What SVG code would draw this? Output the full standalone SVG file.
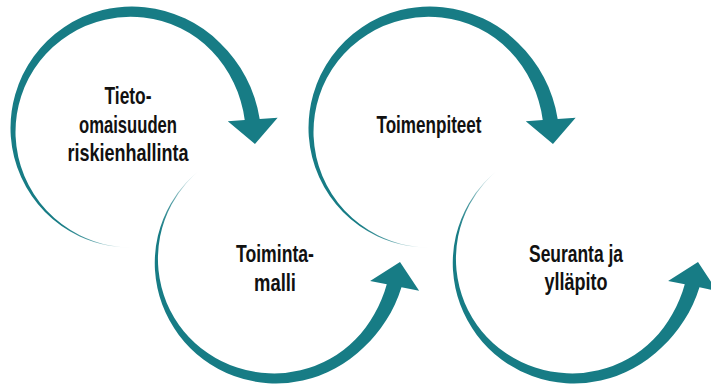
<svg xmlns="http://www.w3.org/2000/svg" xmlns:xlink="http://www.w3.org/1999/xlink" width="711" height="384" viewBox="0 0 711 384">
  <style>
    .label { font-family: "Liberation Sans Narrow", "Liberation Sans", Arial, sans-serif; font-weight: bold; font-size: 24px; fill: #111111; text-anchor: middle; }
  </style>
  <defs>
    <!-- tail fade: transparent at the thin end, solid teal further along -->
    <radialGradient id="fadeLong" gradientUnits="userSpaceOnUse" cx="0" cy="119.5" r="75">
      <stop offset="0" stop-color="#177c85" stop-opacity="0"/>
      <stop offset="0.27" stop-color="#177c85" stop-opacity="0.3"/>
      <stop offset="0.6" stop-color="#177c85" stop-opacity="0.78"/>
      <stop offset="1" stop-color="#177c85" stop-opacity="1"/>
    </radialGradient>
    <radialGradient id="fadeShort" gradientUnits="userSpaceOnUse" cx="-87.4" cy="81.5" r="75">
      <stop offset="0" stop-color="#177c85" stop-opacity="0"/>
      <stop offset="0.27" stop-color="#177c85" stop-opacity="0.3"/>
      <stop offset="0.6" stop-color="#177c85" stop-opacity="0.78"/>
      <stop offset="1" stop-color="#177c85" stop-opacity="1"/>
    </radialGradient>
    <!-- tapering circular arrow, centre at origin, sweep ~266deg -->
    <path id="arrowLong" fill="url(#fadeLong)" d="M 112.72 -7.88 L 95.77 -6.70 L 122.97 15.97 L 145.64 -10.19 L 127.69 -8.93
      A 127 127 0 0 0 122.45 -30.53
      A 125.3 125.3 0 0 0 113.83 -50.68
      A 124 124 0 0 0 102.22 -68.95
      A 122.9 122.9 0 0 0 88.05 -85.03
      A 122 122 0 0 0 53.35 -109.38
      A 121.6 121.6 0 0 0 12.70 -120.83
      A 121.5 121.5 0 0 0 -29.39 -117.89
      A 121.5 121.5 0 0 0 -67.94 -100.73
      A 121.5 121.5 0 0 0 -98.30 -71.42
      A 121.5 121.5 0 0 0 -116.79 -33.49
      A 121.5 121.5 0 0 0 -121.20 8.48
      A 121.4 121.4 0 0 0 -110.81 49.34
      A 121.2 121.2 0 0 0 -87.04 84.05
      A 120.7 120.7 0 0 0 -52.78 108.21
      A 120.2 120.2 0 0 0 -22.88 117.70
      A 119.7 119.7 0 0 0 0 119.5
      A 119.5 119.5 0 0 1 -22.78 117.21
      A 119.3 119.3 0 0 1 -52.25 107.14
      A 119 119 0 0 1 -85.39 82.46
      A 118.2 118.2 0 0 1 -107.62 47.91
      A 117.2 117.2 0 0 1 -116.42 8.14
      A 116 116 0 0 1 -110.83 -31.78
      A 114.5 114.5 0 0 1 -92.07 -66.89
      A 113.1 113.1 0 0 1 -62.91 -93.27
      A 112 112 0 0 1 -26.97 -108.19
      A 111.2 111.2 0 0 1 11.60 -110.39
      A 110.9 110.9 0 0 1 48.61 -99.68
      A 110.9 110.9 0 0 1 79.77 -77.04
      A 110.9 110.9 0 0 1 92.02 -62.07
      A 111.1 111.1 0 0 1 101.68 -45.27
      A 111.6 111.6 0 0 1 108.67 -27.10
      A 112.5 112.5 0 0 1 112.72 -7.88 Z"/>
    <!-- same arrow with a shorter sweep (~219deg) -->
    <path id="arrowShort" fill="url(#fadeShort)" d="M 112.72 -7.88 L 95.77 -6.70 L 122.97 15.97 L 145.64 -10.19 L 127.69 -8.93
      A 127 127 0 0 0 123.34 -26.73
      A 125.3 125.3 0 0 0 116.73 -43.58
      A 124 124 0 0 0 108.15 -59.21
      A 122.9 122.9 0 0 0 97.84 -73.54
      A 122 122 0 0 0 72.56 -97.70
      A 121.6 121.6 0 0 0 41.83 -114.07
      A 121.5 121.5 0 0 0 7.78 -121.25
      A 121.5 121.5 0 0 0 -26.92 -118.48
      A 121.5 121.5 0 0 0 -59.39 -106.00
      A 121.5 121.5 0 0 0 -87.00 -84.81
      A 121.5 121.5 0 0 0 -107.47 -56.68
      A 121.4 121.4 0 0 0 -118.93 -23.85
      A 121.2 121.2 0 0 0 -120.51 10.82
      A 120.7 120.7 0 0 0 -111.95 44.30
      A 120.2 120.2 0 0 0 -99.47 66.94
      A 119.7 119.7 0 0 0 -87.40 81.50
      A 119.5 119.5 0 0 1 -99.06 66.66
      A 119.3 119.3 0 0 1 -110.84 43.86
      A 119 119 0 0 1 -118.22 10.61
      A 118.2 118.2 0 0 1 -115.50 -23.16
      A 117.2 117.2 0 0 1 -103.22 -54.45
      A 116 116 0 0 1 -82.56 -80.48
      A 114.5 114.5 0 0 1 -55.62 -99.28
      A 113.1 113.1 0 0 1 -24.92 -109.70
      A 112 112 0 0 1 7.14 -111.27
      A 111.2 111.2 0 0 1 38.22 -104.21
      A 110.9 110.9 0 0 1 66.12 -89.03
      A 110.9 110.9 0 0 1 88.65 -66.63
      A 110.9 110.9 0 0 1 97.36 -53.30
      A 111.1 111.1 0 0 1 104.27 -38.92
      A 111.6 111.6 0 0 1 109.46 -23.72
      A 112.5 112.5 0 0 1 112.72 -7.88 Z"/>
  </defs>

  <rect width="711" height="384" fill="#ffffff"/>

  <g id="node-riskienhallinta">
    <use xlink:href="#arrowLong" href="#arrowLong" transform="translate(132,128)"/>
    <text class="label" x="128" y="104" textLength="47" lengthAdjust="spacingAndGlyphs">Tieto-</text>
    <text class="label" x="128" y="133" textLength="98" lengthAdjust="spacingAndGlyphs">omaisuuden</text>
    <text class="label" x="128" y="161" textLength="121" lengthAdjust="spacingAndGlyphs">riskienhallinta</text>
  </g>

  <g id="node-toimintamalli">
    <use xlink:href="#arrowShort" href="#arrowShort" transform="translate(276,262) rotate(7.4) scale(1,-1)"/>
    <text class="label" x="275" y="262" textLength="78" lengthAdjust="spacingAndGlyphs">Toiminta-</text>
    <text class="label" x="275" y="290.5" textLength="42" lengthAdjust="spacingAndGlyphs">malli</text>
  </g>

  <g id="node-toimenpiteet">
    <use xlink:href="#arrowLong" href="#arrowLong" transform="translate(430,128)"/>
    <text class="label" x="429" y="133" textLength="105" lengthAdjust="spacingAndGlyphs">Toimenpiteet</text>
  </g>

  <g id="node-seuranta">
    <use xlink:href="#arrowShort" href="#arrowShort" transform="translate(574,262) rotate(7.4) scale(1,-1)"/>
    <text class="label" x="576" y="262" textLength="94" lengthAdjust="spacingAndGlyphs">Seuranta ja</text>
    <text class="label" x="576" y="290" textLength="63" lengthAdjust="spacingAndGlyphs">ylläpito</text>
  </g>

  <g id="connectors"/>
</svg>
